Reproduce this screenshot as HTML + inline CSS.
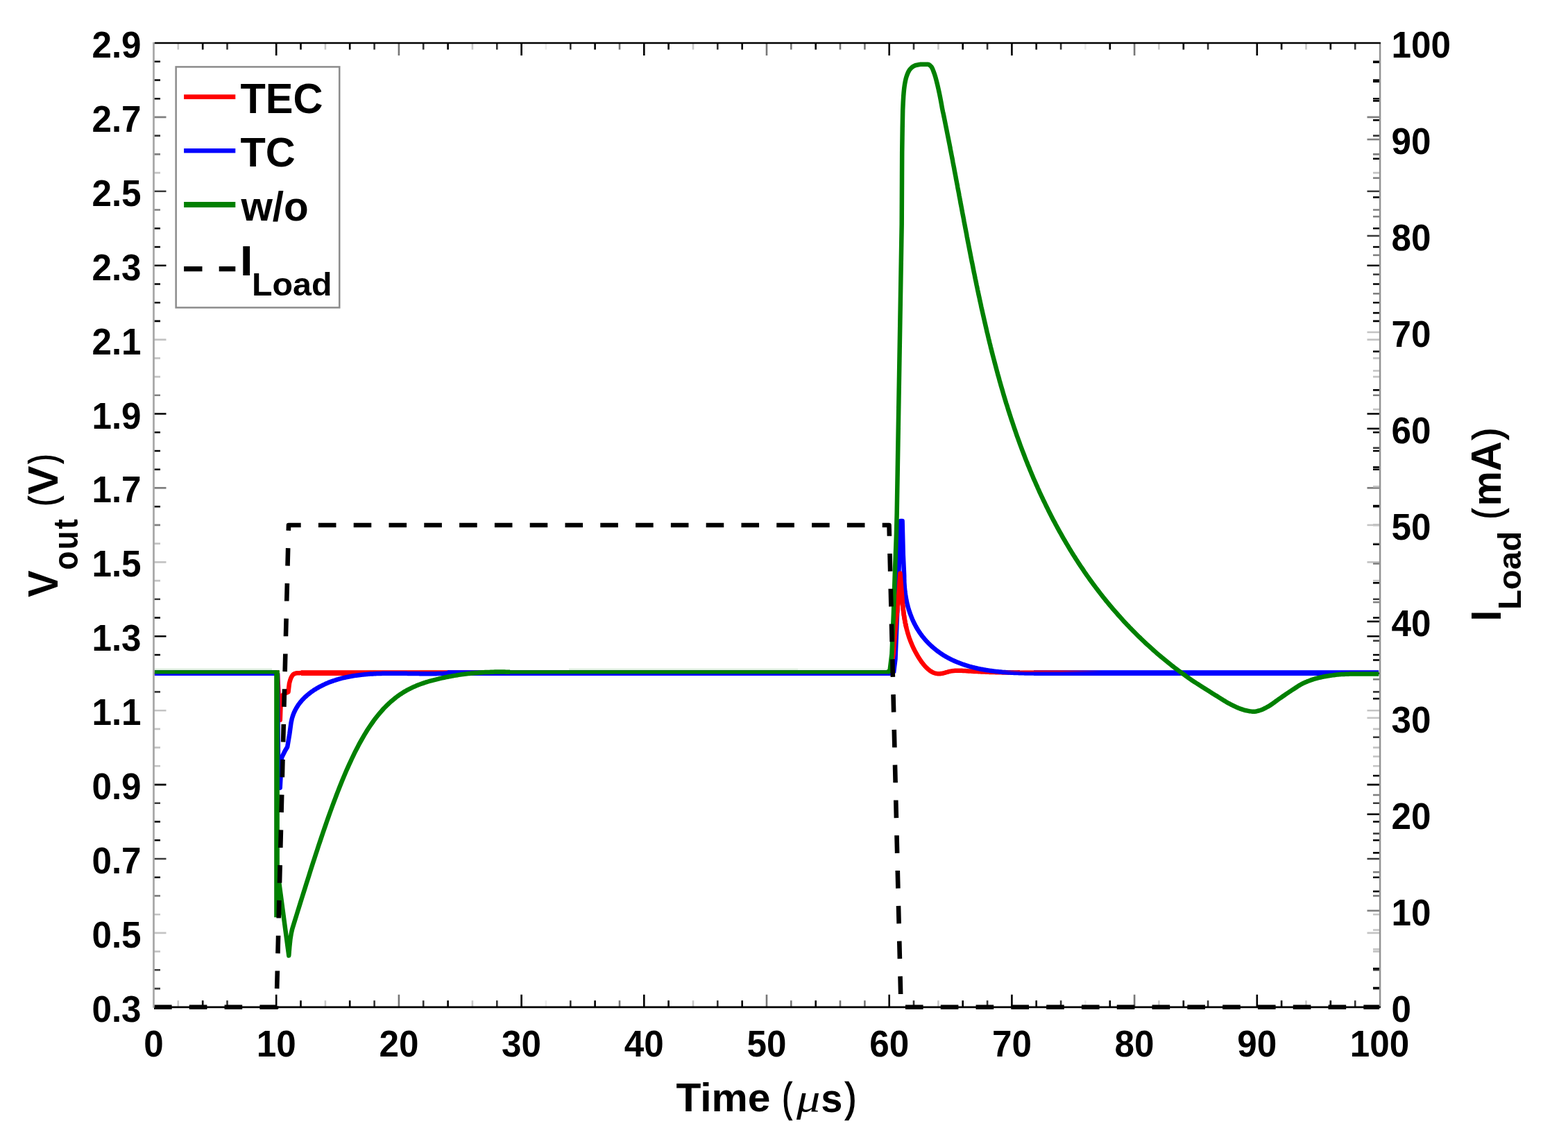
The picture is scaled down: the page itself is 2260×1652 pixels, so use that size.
<!DOCTYPE html>
<html lang="en"><head><meta charset="utf-8"><title>Load transient response</title>
<style>html,body{margin:0;padding:0;background:#fff;overflow:hidden}svg{display:block}</style></head><body>
<svg width="2260" height="1652" viewBox="0 0 2260 1652" font-family="'Liberation Sans',sans-serif" font-weight="bold" fill="#000">
<rect width="2260" height="1652" fill="#fff"/>
<g>
<g fill="none" stroke-width="2.6"><path d="M256.8 62.0v9.5M256.8 1451.8v-9.5" stroke="#c8c8c8"/><path d="M292.2 62.0v9.5M292.2 1451.8v-9.5" stroke="#000"/><path d="M327.5 62.0v9.5M327.5 1451.8v-9.5" stroke="#333"/><path d="M398.2 62.0v18M398.2 1451.8v-18" stroke="#000"/><path d="M433.5 62.0v9.5M433.5 1451.8v-9.5" stroke="#000"/><path d="M468.9 62.0v9.5M468.9 1451.8v-9.5" stroke="#c8c8c8"/><path d="M504.2 62.0v9.5M504.2 1451.8v-9.5" stroke="#000"/><path d="M539.6 62.0v9.5M539.6 1451.8v-9.5" stroke="#333"/><path d="M574.9 62.0v18M574.9 1451.8v-18" stroke="#777"/><path d="M610.2 62.0v9.5M610.2 1451.8v-9.5" stroke="#333"/><path d="M645.6 62.0v9.5M645.6 1451.8v-9.5" stroke="#000"/><path d="M680.9 62.0v9.5M680.9 1451.8v-9.5" stroke="#c8c8c8"/><path d="M716.3 62.0v9.5M716.3 1451.8v-9.5" stroke="#333"/><path d="M751.6 62.0v18M751.6 1451.8v-18" stroke="#000"/><path d="M786.9 62.0v9.5M786.9 1451.8v-9.5" stroke="#ececec"/><path d="M822.3 62.0v9.5M822.3 1451.8v-9.5" stroke="#333"/><path d="M857.6 62.0v9.5M857.6 1451.8v-9.5" stroke="#000"/><path d="M893.0 62.0v9.5M893.0 1451.8v-9.5" stroke="#777"/><path d="M928.3 62.0v18M928.3 1451.8v-18" stroke="#000"/><path d="M963.6 62.0v9.5M963.6 1451.8v-9.5" stroke="#000"/><path d="M999.0 62.0v9.5M999.0 1451.8v-9.5" stroke="#c8c8c8"/><path d="M1034.3 62.0v9.5M1034.3 1451.8v-9.5" stroke="#333"/><path d="M1069.7 62.0v9.5M1069.7 1451.8v-9.5" stroke="#000"/><path d="M1105.0 62.0v18M1105.0 1451.8v-18" stroke="#777"/><path d="M1140.3 62.0v9.5M1140.3 1451.8v-9.5" stroke="#777"/><path d="M1175.7 62.0v9.5M1175.7 1451.8v-9.5" stroke="#000"/><path d="M1211.0 62.0v9.5M1211.0 1451.8v-9.5" stroke="#777"/><path d="M1246.4 62.0v9.5M1246.4 1451.8v-9.5" stroke="#777"/><path d="M1281.7 62.0v18M1281.7 1451.8v-18" stroke="#000"/><path d="M1317.0 62.0v9.5M1317.0 1451.8v-9.5" stroke="#333"/><path d="M1352.4 62.0v9.5M1352.4 1451.8v-9.5" stroke="#c8c8c8"/><path d="M1387.7 62.0v9.5M1387.7 1451.8v-9.5" stroke="#000"/><path d="M1423.1 62.0v9.5M1423.1 1451.8v-9.5" stroke="#333"/><path d="M1458.4 62.0v18M1458.4 1451.8v-18" stroke="#000"/><path d="M1493.7 62.0v9.5M1493.7 1451.8v-9.5" stroke="#000"/><path d="M1529.1 62.0v9.5M1529.1 1451.8v-9.5" stroke="#333"/><path d="M1564.4 62.0v9.5M1564.4 1451.8v-9.5" stroke="#ececec"/><path d="M1599.8 62.0v9.5M1599.8 1451.8v-9.5" stroke="#000"/><path d="M1635.1 62.0v18M1635.1 1451.8v-18" stroke="#777"/><path d="M1670.4 62.0v9.5M1670.4 1451.8v-9.5" stroke="#c8c8c8"/><path d="M1705.8 62.0v9.5M1705.8 1451.8v-9.5" stroke="#000"/><path d="M1741.1 62.0v9.5M1741.1 1451.8v-9.5" stroke="#333"/><path d="M1811.8 62.0v18M1811.8 1451.8v-18" stroke="#000"/><path d="M1847.1 62.0v9.5M1847.1 1451.8v-9.5" stroke="#000"/><path d="M1882.5 62.0v9.5M1882.5 1451.8v-9.5" stroke="#c8c8c8"/><path d="M1917.8 62.0v9.5M1917.8 1451.8v-9.5" stroke="#000"/><path d="M1953.2 62.0v9.5M1953.2 1451.8v-9.5" stroke="#333"/></g>
<g fill="none" stroke-width="2.6"><path d="M221.5 1425.1h9.5M1988.5 1425.1h-9.5" stroke="#3a3a3a"/><path d="M221.5 1398.3h9.5M1988.5 1398.3h-9.5" stroke="#3a3a3a"/><path d="M221.5 1371.6h9.5M1988.5 1371.6h-9.5" stroke="#c4c4c4"/><path d="M221.5 1344.9h18M1988.5 1344.9h-18" stroke="#c4c4c4"/><path d="M221.5 1318.2h9.5M1988.5 1318.2h-9.5" stroke="#c4c4c4"/><path d="M221.5 1291.4h9.5M1988.5 1291.4h-9.5" stroke="#808080"/><path d="M221.5 1264.7h9.5M1988.5 1264.7h-9.5" stroke="#000"/><path d="M221.5 1238.0h18M1988.5 1238.0h-18" stroke="#3a3a3a"/><path d="M221.5 1211.3h9.5M1988.5 1211.3h-9.5" stroke="#000"/><path d="M221.5 1184.5h9.5M1988.5 1184.5h-9.5" stroke="#000"/><path d="M221.5 1157.8h9.5M1988.5 1157.8h-9.5" stroke="#3a3a3a"/><path d="M221.5 1131.1h18M1988.5 1131.1h-18" stroke="#000"/><path d="M221.5 1104.3h9.5M1988.5 1104.3h-9.5" stroke="#c4c4c4"/><path d="M221.5 1077.6h9.5M1988.5 1077.6h-9.5" stroke="#c4c4c4"/><path d="M221.5 1050.9h9.5M1988.5 1050.9h-9.5" stroke="#c4c4c4"/><path d="M221.5 1024.2h18M1988.5 1024.2h-18" stroke="#c4c4c4"/><path d="M221.5 997.4h9.5M1988.5 997.4h-9.5" stroke="#3a3a3a"/><path d="M221.5 970.7h9.5M1988.5 970.7h-9.5" stroke="#000"/><path d="M221.5 944.0h9.5M1988.5 944.0h-9.5" stroke="#000"/><path d="M221.5 917.3h18M1988.5 917.3h-18" stroke="#000"/><path d="M221.5 890.5h9.5M1988.5 890.5h-9.5" stroke="#000"/><path d="M221.5 863.8h9.5M1988.5 863.8h-9.5" stroke="#3a3a3a"/><path d="M221.5 837.1h9.5M1988.5 837.1h-9.5" stroke="#c4c4c4"/><path d="M221.5 810.4h18M1988.5 810.4h-18" stroke="#c4c4c4"/><path d="M221.5 783.6h9.5M1988.5 783.6h-9.5" stroke="#c4c4c4"/><path d="M221.5 756.9h9.5M1988.5 756.9h-9.5" stroke="#808080"/><path d="M221.5 730.2h9.5M1988.5 730.2h-9.5" stroke="#000"/><path d="M221.5 703.4h18M1988.5 703.4h-18" stroke="#808080"/><path d="M221.5 676.7h9.5M1988.5 676.7h-9.5" stroke="#000"/><path d="M221.5 650.0h9.5M1988.5 650.0h-9.5" stroke="#000"/><path d="M221.5 623.3h9.5M1988.5 623.3h-9.5" stroke="#000"/><path d="M221.5 596.5h18M1988.5 596.5h-18" stroke="#000"/><path d="M221.5 569.8h9.5M1988.5 569.8h-9.5" stroke="#808080"/><path d="M221.5 543.1h9.5M1988.5 543.1h-9.5" stroke="#c4c4c4"/><path d="M221.5 516.4h9.5M1988.5 516.4h-9.5" stroke="#c4c4c4"/><path d="M221.5 489.6h18M1988.5 489.6h-18" stroke="#c4c4c4"/><path d="M221.5 462.9h9.5M1988.5 462.9h-9.5" stroke="#000"/><path d="M221.5 436.2h9.5M1988.5 436.2h-9.5" stroke="#000"/><path d="M221.5 409.5h9.5M1988.5 409.5h-9.5" stroke="#000"/><path d="M221.5 382.7h18M1988.5 382.7h-18" stroke="#000"/><path d="M221.5 356.0h9.5M1988.5 356.0h-9.5" stroke="#000"/><path d="M221.5 329.3h9.5M1988.5 329.3h-9.5" stroke="#000"/><path d="M221.5 302.5h9.5M1988.5 302.5h-9.5" stroke="#808080"/><path d="M221.5 275.8h18M1988.5 275.8h-18" stroke="#3a3a3a"/><path d="M221.5 249.1h9.5M1988.5 249.1h-9.5" stroke="#c4c4c4"/><path d="M221.5 222.4h9.5M1988.5 222.4h-9.5" stroke="#808080"/><path d="M221.5 195.6h9.5M1988.5 195.6h-9.5" stroke="#3a3a3a"/><path d="M221.5 168.9h18M1988.5 168.9h-18" stroke="#808080"/><path d="M221.5 142.2h9.5M1988.5 142.2h-9.5" stroke="#000"/><path d="M221.5 115.5h9.5M1988.5 115.5h-9.5" stroke="#000"/><path d="M221.5 88.7h9.5M1988.5 88.7h-9.5" stroke="#000"/><path d="M1988.5 1424.0h-9.5" stroke="#000"/><path d="M1988.5 1396.2h-9.5" stroke="#000"/><path d="M1988.5 1368.4h-9.5" stroke="#c4c4c4"/><path d="M1988.5 1340.6h-9.5" stroke="#c4c4c4"/><path d="M1988.5 1312.8h-18" stroke="#808080"/><path d="M1988.5 1285.0h-9.5" stroke="#000"/><path d="M1988.5 1257.2h-9.5" stroke="#808080"/><path d="M1988.5 1229.4h-9.5" stroke="#000"/><path d="M1988.5 1201.6h-9.5" stroke="#3a3a3a"/><path d="M1988.5 1173.8h-18" stroke="#000"/><path d="M1988.5 1146.0h-9.5" stroke="#808080"/><path d="M1988.5 1118.2h-9.5" stroke="#000"/><path d="M1988.5 1090.5h-9.5" stroke="#c4c4c4"/><path d="M1988.5 1062.7h-9.5" stroke="#3a3a3a"/><path d="M1988.5 1034.9h-18" stroke="#c4c4c4"/><path d="M1988.5 1007.1h-9.5" stroke="#000"/><path d="M1988.5 979.3h-9.5" stroke="#808080"/><path d="M1988.5 951.5h-9.5" stroke="#000"/><path d="M1988.5 923.7h-9.5" stroke="#3a3a3a"/><path d="M1988.5 895.9h-18" stroke="#000"/><path d="M1988.5 868.1h-9.5" stroke="#808080"/><path d="M1988.5 840.3h-9.5" stroke="#000"/><path d="M1988.5 812.5h-9.5" stroke="#808080"/><path d="M1988.5 784.7h-9.5" stroke="#000"/><path d="M1988.5 756.9h-18" stroke="#c4c4c4"/><path d="M1988.5 729.1h-9.5" stroke="#000"/><path d="M1988.5 701.3h-9.5" stroke="#c4c4c4"/><path d="M1988.5 673.5h-9.5" stroke="#000"/><path d="M1988.5 645.7h-9.5" stroke="#3a3a3a"/><path d="M1988.5 617.9h-18" stroke="#000"/><path d="M1988.5 590.1h-9.5" stroke="#c4c4c4"/><path d="M1988.5 562.3h-9.5" stroke="#000"/><path d="M1988.5 534.5h-9.5" stroke="#c4c4c4"/><path d="M1988.5 506.7h-9.5" stroke="#000"/><path d="M1988.5 478.9h-18" stroke="#c4c4c4"/><path d="M1988.5 451.1h-9.5" stroke="#000"/><path d="M1988.5 423.3h-9.5" stroke="#808080"/><path d="M1988.5 395.6h-9.5" stroke="#3a3a3a"/><path d="M1988.5 367.8h-9.5" stroke="#808080"/><path d="M1988.5 340.0h-18" stroke="#3a3a3a"/><path d="M1988.5 312.2h-9.5" stroke="#808080"/><path d="M1988.5 284.4h-9.5" stroke="#000"/><path d="M1988.5 256.6h-9.5" stroke="#808080"/><path d="M1988.5 228.8h-9.5" stroke="#000"/><path d="M1988.5 201.0h-18" stroke="#808080"/><path d="M1988.5 173.2h-9.5" stroke="#000"/><path d="M1988.5 145.4h-9.5" stroke="#000"/><path d="M1988.5 117.6h-9.5" stroke="#000"/><path d="M1988.5 89.8h-9.5" stroke="#000"/></g>
<clipPath id="c"><rect x="222.8" y="62.0" width="1764.4" height="1393.8"/></clipPath>
<g clip-path="url(#c)">
<rect x="222.0" y="966.2" width="180.0" height="7.8" fill="#ff0000"/>
<rect x="434.0" y="966.2" width="852.0" height="7.8" fill="#ff0000"/>
<path d="M400.0 970.1 L401.5 1000.0 L403.8 1038.0 L405.0 1004.0 L410.0 1000.0 L415.5 997.5 L417.0 985.0 L418.0 981.3 L419.0 978.2 L420.0 976.0 L421.0 974.3 L422.0 972.9 L423.0 972.0 L424.0 971.5 L425.0 971.0 L426.0 970.7 L427.0 970.4 L428.0 970.3 L429.0 970.3 L430.0 970.2 L431.0 970.2 L432.0 970.2 L433.0 970.1 L434.0 970.1 L435.0 970.1 L436.0 970.1" fill="none" stroke="#ff0000" stroke-width="6.5" stroke-linejoin="round" />
<path d="M1284.0 970.1 L1286.1 951.0 L1287.6 943.3 L1291.2 899.7 L1294.9 863.4 L1297.5 826.4 L1299.9 856.2 L1300.0 857.5 L1300.1 858.8 L1300.2 860.2 L1300.3 861.5 L1300.4 862.8 L1300.5 864.1 L1300.6 865.4 L1300.7 866.7 L1300.8 867.9 L1300.9 869.2 L1301.0 870.5 L1301.1 871.8 L1301.3 873.1 L1301.4 874.3 L1301.5 875.6 L1301.6 876.9 L1301.8 878.1 L1301.9 879.4 L1302.1 880.7 L1302.2 881.9 L1302.4 883.2 L1302.6 884.4 L1302.7 885.7 L1302.9 886.9 L1303.1 888.1 L1303.3 889.4 L1303.5 890.6 L1303.7 891.8 L1303.9 893.1 L1304.1 894.3 L1304.3 895.5 L1304.6 896.7 L1304.8 898.0 L1305.1 899.2 L1305.3 900.4 L1305.6 901.6 L1305.9 902.8 L1306.1 904.0 L1306.4 905.2 L1306.7 906.4 L1307.0 907.6 L1307.3 908.8 L1307.7 910.0 L1308.0 911.2 L1308.3 912.4 L1308.7 913.6 L1309.1 914.8 L1309.4 916.0 L1309.8 917.2 L1310.2 918.4 L1310.6 919.6 L1311.0 920.7 L1311.5 921.9 L1311.9 923.1 L1312.3 924.3 L1312.8 925.5 L1313.3 926.7 L1313.8 927.8 L1314.3 929.0 L1314.8 930.2 L1315.3 931.4 L1315.8 932.5 L1316.4 933.7 L1316.9 934.9 L1317.5 936.0 L1318.1 937.2 L1318.7 938.4 L1319.3 939.6 L1320.0 940.7 L1320.6 941.9 L1321.3 943.1 L1321.9 944.2 L1322.6 945.4 L1323.3 946.6 L1324.0 947.7 L1324.8 948.9 L1325.5 950.1 L1326.3 951.2 L1327.0 952.3 L1327.8 953.5 L1328.6 954.6 L1329.4 955.7 L1330.3 956.7 L1331.1 957.8 L1332.0 958.8 L1332.8 959.8 L1333.7 960.8 L1334.6 961.7 L1335.5 962.6 L1336.4 963.5 L1337.4 964.4 L1338.3 965.2 L1339.3 965.9 L1340.2 966.7 L1341.2 967.3 L1342.2 968.0 L1343.2 968.5 L1344.2 969.1 L1345.2 969.6 L1346.3 970.0 L1347.3 970.3 L1348.4 970.6 L1349.4 970.9 L1350.5 971.1 L1351.6 971.2 L1352.7 971.2 L1353.8 971.2 L1354.9 971.2 L1356.0 971.0 L1357.1 970.9 L1358.3 970.7 L1359.4 970.5 L1360.6 970.2 L1361.8 969.9 L1362.9 969.5 L1364.1 969.2 L1365.3 968.9 L1366.5 968.5 L1367.7 968.2 L1368.9 967.9 L1370.1 967.6 L1371.4 967.4 L1372.6 967.2 L1373.8 967.1 L1375.1 966.9 L1376.3 966.8 L1377.6 966.8 L1378.8 966.7 L1380.1 966.7 L1381.4 966.7 L1382.6 966.7 L1383.9 966.7 L1385.2 966.8 L1386.5 966.8 L1387.8 966.9 L1389.1 966.9 L1390.4 967.0 L1391.7 967.1 L1393.0 967.2 L1394.3 967.3 L1395.6 967.4 L1396.9 967.5 L1398.3 967.5 L1399.6 967.6 L1400.9 967.7 L1402.2 967.8 L1403.5 967.9 L1404.9 967.9 L1406.2 968.0 L1407.5 968.1 L1408.9 968.1 L1410.2 968.2 L1411.5 968.3 L1412.9 968.3 L1414.2 968.4 L1415.5 968.5 L1416.9 968.5 L1418.2 968.6 L1419.5 968.6 L1420.9 968.7 L1422.2 968.7 L1423.5 968.8 L1424.8 968.8 L1426.2 968.9 L1427.5 968.9 L1428.8 969.0 L1430.1 969.0 L1431.5 969.1 L1432.8 969.1 L1434.1 969.1 L1435.4 969.2 L1436.7 969.2 L1438.0 969.2 L1439.3 969.3 L1440.6 969.3 L1441.9 969.3 L1443.2 969.3 L1444.4 969.4 L1445.7 969.4 L1447.0 969.4 L1448.3 969.4 L1449.5 969.4 L1450.8 969.4 L1452.0 969.4 L1453.3 969.4 L1454.5 969.4 L1455.8 969.4 L1457.0 969.4 L1458.2 969.4 L1459.4 969.4 L1460.6 969.4 L1461.8 969.4 L1463.0 969.4 L1464.2 969.4 L1465.4 969.4 L1466.5 969.4 L1467.7 969.3 L1468.9 969.3 L1470.0 969.3" fill="none" stroke="#ff0000" stroke-width="6.5" stroke-linejoin="round" stroke-linejoin="miter" stroke-miterlimit="10"/>
<rect x="222.0" y="966.2" width="177.0" height="7.8" fill="#0000ff"/>
<rect x="645.0" y="966.2" width="645.0" height="7.8" fill="#0000ff"/>
<rect x="1490.0" y="966.2" width="500.0" height="7.8" fill="#0000ff"/>
<path d="M400.0 971.1 L401.0 1100.0 L403.7 1135.7 L406.0 1092.0 L411.0 1082.0 L414.2 1076.8 L417.3 1058.3 L419.4 1042.9 L419.4 1042.9 L419.6 1041.5 L419.9 1040.1 L420.2 1038.7 L420.5 1037.3 L420.8 1035.9 L421.2 1034.6 L421.6 1033.3 L422.0 1032.0 L422.5 1030.7 L422.9 1029.4 L423.4 1028.2 L424.0 1026.9 L424.5 1025.7 L425.1 1024.5 L425.7 1023.3 L426.3 1022.2 L426.9 1021.0 L427.6 1019.9 L428.3 1018.8 L429.0 1017.7 L429.7 1016.6 L430.4 1015.5 L431.2 1014.5 L432.0 1013.5 L432.7 1012.5 L433.6 1011.5 L434.4 1010.5 L435.2 1009.5 L436.1 1008.6 L437.0 1007.6 L437.9 1006.7 L438.8 1005.8 L439.7 1004.9 L440.7 1004.0 L441.6 1003.2 L442.6 1002.3 L443.6 1001.5 L444.6 1000.7 L445.6 999.9 L446.6 999.1 L447.6 998.3 L448.6 997.5 L449.7 996.8 L450.7 996.1 L451.8 995.3 L452.9 994.6 L454.0 993.9 L455.1 993.3 L456.2 992.6 L457.3 991.9 L458.4 991.3 L459.5 990.7 L460.6 990.0 L461.7 989.4 L462.9 988.9 L464.0 988.3 L465.2 987.7 L466.3 987.2 L467.5 986.6 L468.6 986.1 L469.8 985.6 L471.0 985.1 L472.1 984.6 L473.3 984.1 L474.5 983.6 L475.7 983.1 L476.9 982.7 L478.1 982.2 L479.3 981.8 L480.5 981.4 L481.7 981.0 L483.0 980.6 L484.2 980.2 L485.4 979.8 L486.6 979.4 L487.9 979.1 L489.1 978.7 L490.4 978.4 L491.6 978.0 L492.9 977.7 L494.1 977.4 L495.4 977.1 L496.7 976.8 L497.9 976.5 L499.2 976.2 L500.5 976.0 L501.8 975.7 L503.0 975.5 L504.3 975.2 L505.6 975.0 L506.9 974.7 L508.2 974.5 L509.5 974.3 L510.8 974.1 L512.1 973.9 L513.4 973.7 L514.7 973.5 L516.1 973.4 L517.4 973.2 L518.7 973.0 L520.0 972.9 L521.3 972.7 L522.7 972.6 L524.0 972.4 L525.3 972.3 L526.7 972.2 L528.0 972.1 L529.3 971.9 L530.7 971.8 L532.0 971.7 L533.3 971.6 L534.7 971.6 L536.0 971.5 L537.4 971.4 L538.7 971.3 L540.1 971.2 L541.4 971.2 L542.8 971.1 L544.1 971.1 L545.5 971.0 L546.9 971.0 L548.2 970.9 L549.6 970.9 L550.9 970.8 L552.3 970.8 L553.7 970.8 L555.0 970.7 L556.4 970.7 L557.7 970.7 L559.1 970.7 L560.5 970.7 L561.8 970.7 L563.2 970.7 L564.6 970.7 L565.9 970.7 L567.3 970.7 L568.6 970.7 L570.0 970.7 L571.4 970.7 L572.7 970.7 L574.1 970.7 L575.5 970.7 L576.8 970.7 L578.2 970.7 L579.5 970.7 L580.9 970.8 L582.3 970.8 L583.6 970.8 L585.0 970.8 L586.3 970.8 L587.7 970.9 L589.0 970.9 L590.4 970.9 L591.7 970.9 L593.1 971.0 L594.4 971.0 L595.8 971.0 L597.1 971.0 L598.5 971.1 L599.8 971.1 L601.1 971.1 L602.5 971.1 L603.8 971.1 L605.2 971.2 L606.5 971.2 L607.8 971.2 L609.1 971.2 L610.5 971.2 L611.8 971.2 L613.1 971.2 L614.4 971.2 L615.7 971.2 L617.1 971.3 L618.4 971.3 L619.7 971.3 L621.0 971.2 L622.3 971.2 L623.6 971.2 L624.9 971.2 L626.2 971.2 L627.4 971.2 L628.7 971.2 L630.0 971.1 L631.3 971.1 L632.6 971.1 L633.8 971.1 L635.1 971.0 L636.4 971.0 L637.6 970.9 L638.9 970.9 L640.1 970.8 L641.4 970.8 L642.6 970.7 L643.9 970.6 L645.1 970.5 L646.3 970.5 L647.6 970.4 L648.8 970.3 L650.0 970.2" fill="none" stroke="#0000ff" stroke-width="6.5" stroke-linejoin="round" />
<path d="M1288.0 970.1 L1290.5 950.0 L1294.5 850.0 L1298.0 751.0 L1300.6 751.0 L1301.8 800.0 L1303.2 830.0 L1303.2 831.5 L1303.2 833.0 L1303.2 834.4 L1303.3 835.9 L1303.3 837.4 L1303.3 838.9 L1303.4 840.3 L1303.5 841.8 L1303.6 843.2 L1303.7 844.7 L1303.8 846.1 L1303.9 847.6 L1304.0 849.0 L1304.2 850.5 L1304.4 851.9 L1304.5 853.3 L1304.7 854.8 L1304.9 856.2 L1305.1 857.6 L1305.3 859.0 L1305.6 860.4 L1305.8 861.8 L1306.1 863.2 L1306.3 864.6 L1306.6 866.0 L1306.9 867.4 L1307.2 868.8 L1307.5 870.1 L1307.9 871.5 L1308.2 872.9 L1308.6 874.2 L1308.9 875.6 L1309.3 876.9 L1309.7 878.2 L1310.1 879.6 L1310.6 880.9 L1311.0 882.2 L1311.4 883.5 L1311.9 884.8 L1312.4 886.1 L1312.9 887.4 L1313.4 888.7 L1313.9 890.0 L1314.4 891.2 L1314.9 892.5 L1315.5 893.8 L1316.0 895.0 L1316.6 896.2 L1317.2 897.5 L1317.8 898.7 L1318.4 899.9 L1319.1 901.1 L1319.7 902.3 L1320.4 903.5 L1321.0 904.7 L1321.7 905.8 L1322.4 907.0 L1323.1 908.2 L1323.9 909.3 L1324.6 910.4 L1325.4 911.6 L1326.1 912.7 L1326.9 913.8 L1327.7 914.9 L1328.5 916.0 L1329.3 917.1 L1330.2 918.1 L1331.0 919.2 L1331.9 920.2 L1332.8 921.3 L1333.7 922.3 L1334.6 923.3 L1335.5 924.3 L1336.4 925.3 L1337.4 926.3 L1338.3 927.3 L1339.3 928.3 L1340.3 929.2 L1341.3 930.2 L1342.3 931.1 L1343.3 932.0 L1344.3 932.9 L1345.4 933.8 L1346.4 934.7 L1347.5 935.6 L1348.6 936.5 L1349.6 937.3 L1350.7 938.2 L1351.8 939.0 L1353.0 939.8 L1354.1 940.6 L1355.2 941.4 L1356.4 942.2 L1357.5 942.9 L1358.7 943.7 L1359.8 944.4 L1361.0 945.2 L1362.2 945.9 L1363.4 946.6 L1364.6 947.3 L1365.8 947.9 L1367.0 948.6 L1368.3 949.2 L1369.5 949.9 L1370.7 950.5 L1372.0 951.1 L1373.2 951.7 L1374.5 952.3 L1375.7 952.9 L1377.0 953.4 L1378.3 954.0 L1379.6 954.5 L1380.9 955.0 L1382.2 955.5 L1383.5 956.0 L1384.8 956.5 L1386.1 957.0 L1387.4 957.5 L1388.7 957.9 L1390.1 958.4 L1391.4 958.8 L1392.7 959.2 L1394.1 959.7 L1395.4 960.1 L1396.8 960.5 L1398.1 960.9 L1399.5 961.2 L1400.8 961.6 L1402.2 961.9 L1403.6 962.3 L1405.0 962.6 L1406.3 963.0 L1407.7 963.3 L1409.1 963.6 L1410.5 963.9 L1411.9 964.2 L1413.3 964.5 L1414.7 964.7 L1416.1 965.0 L1417.5 965.3 L1418.9 965.5 L1420.3 965.8 L1421.7 966.0 L1423.1 966.2 L1424.5 966.4 L1426.0 966.6 L1427.4 966.9 L1428.8 967.0 L1430.2 967.2 L1431.6 967.4 L1433.1 967.6 L1434.5 967.8 L1435.9 967.9 L1437.3 968.1 L1438.8 968.2 L1440.2 968.4 L1441.6 968.5 L1443.0 968.6 L1444.5 968.8 L1445.9 968.9 L1447.3 969.0 L1448.7 969.1 L1450.2 969.2 L1451.6 969.3 L1453.0 969.4 L1454.4 969.5 L1455.8 969.6 L1457.3 969.7 L1458.7 969.7 L1460.1 969.8 L1461.5 969.9 L1462.9 969.9 L1464.3 970.0 L1465.8 970.1 L1467.2 970.1 L1468.6 970.2 L1470.0 970.2 L1471.4 970.2 L1472.8 970.3 L1474.2 970.3 L1475.6 970.3 L1477.0 970.4 L1478.3 970.4 L1479.7 970.4 L1481.1 970.4 L1482.5 970.4 L1483.9 970.5 L1485.2 970.5 L1486.6 970.5 L1487.9 970.5 L1489.3 970.5 L1490.7 970.5 L1492.0 970.5 L1493.4 970.5 L1494.7 970.5 L1496.0 970.5 L1497.4 970.5 L1498.7 970.5 L1500.0 970.5" fill="none" stroke="#0000ff" stroke-width="6.5" stroke-linejoin="round" />
<linearGradient id="rg" x1="0" x2="1" y1="0" y2="0"><stop offset="0" stop-color="#f00" stop-opacity="0"/><stop offset=".25" stop-color="#f00" stop-opacity=".8"/><stop offset=".6" stop-color="#f00" stop-opacity=".7"/><stop offset="1" stop-color="#f00" stop-opacity="0"/></linearGradient>
<rect x="1440" y="966.2" width="150" height="2.6" fill="url(#rg)"/>
<clipPath id="rs"><rect x="1280" y="800" width="40" height="150"/></clipPath>
<g clip-path="url(#rs)"><path d="M1284.0 970.1 L1286.1 951.0 L1287.6 943.3 L1291.2 899.7 L1294.9 863.4 L1297.5 826.4 L1299.9 856.2 L1300.0 857.5 L1300.1 858.8 L1300.2 860.2 L1300.3 861.5 L1300.4 862.8 L1300.5 864.1 L1300.6 865.4 L1300.7 866.7 L1300.8 867.9 L1300.9 869.2 L1301.0 870.5 L1301.1 871.8 L1301.3 873.1 L1301.4 874.3 L1301.5 875.6 L1301.6 876.9 L1301.8 878.1 L1301.9 879.4 L1302.1 880.7 L1302.2 881.9 L1302.4 883.2 L1302.6 884.4 L1302.7 885.7 L1302.9 886.9 L1303.1 888.1 L1303.3 889.4 L1303.5 890.6 L1303.7 891.8 L1303.9 893.1 L1304.1 894.3 L1304.3 895.5 L1304.6 896.7 L1304.8 898.0 L1305.1 899.2 L1305.3 900.4 L1305.6 901.6 L1305.9 902.8 L1306.1 904.0 L1306.4 905.2" fill="none" stroke="#ff0000" stroke-width="6.5" stroke-linejoin="round" stroke-linejoin="miter" stroke-miterlimit="10"/></g>
<rect x="222.0" y="966.2" width="177.0" height="5.2" fill="#008000"/>
<rect x="222.0" y="963.5" width="170.0" height="2.7" fill="#008000" opacity="0.13"/>
<rect x="730.0" y="966.2" width="552.0" height="5.2" fill="#008000"/>
<rect x="820.0" y="963.5" width="330.0" height="2.7" fill="#008000" opacity="0.12"/>
<rect x="1150.0" y="963.5" width="130.0" height="2.7" fill="#008000" opacity="0.06"/>
<rect x="395.2" y="966.2" width="7.7" height="356.1" fill="#008000"/>
<path d="M399.3 1250.0 L416.3 1377.5 L417.3 1365.0 L418.5 1353.5 L419.8 1345.5 L421.2 1339.2 L423.2 1332.7 L425.2 1326.3 L427.2 1319.9 L429.2 1313.4 L431.2 1307.0 L433.2 1300.5 L435.2 1294.1 L437.2 1287.7 L439.2 1281.4 L441.2 1275.0 L443.2 1268.7 L445.2 1262.4 L447.2 1256.1 L449.2 1249.8 L451.2 1243.6 L453.2 1237.4 L455.2 1231.3 L457.2 1225.2 L459.2 1219.1 L461.2 1213.1 L463.2 1207.1 L465.2 1201.2 L467.2 1195.4 L469.2 1189.6 L471.2 1183.8 L473.2 1178.1 L475.2 1172.5 L477.2 1167.0 L479.2 1161.5 L481.2 1156.1 L483.2 1150.8 L485.2 1145.5 L487.2 1140.4 L489.2 1135.3 L491.2 1130.3 L493.2 1125.3 L495.2 1120.5 L497.2 1115.8 L499.2 1111.1 L501.2 1106.6 L503.2 1102.1 L505.2 1097.8 L507.2 1093.5 L509.2 1089.3 L511.2 1085.2 L513.2 1081.3 L515.2 1077.4 L517.2 1073.6 L519.2 1069.9 L521.2 1066.3 L523.2 1062.8 L525.2 1059.4 L527.2 1056.1 L529.2 1052.8 L531.2 1049.7 L533.2 1046.7 L535.2 1043.8 L537.2 1041.0 L539.2 1038.2 L541.2 1035.5 L543.2 1033.0 L545.2 1030.5 L547.2 1028.1 L549.2 1025.8 L551.2 1023.5 L553.2 1021.3 L555.2 1019.3 L557.2 1017.2 L559.2 1015.3 L561.2 1013.4 L563.2 1011.6 L565.2 1009.9 L567.2 1008.2 L569.2 1006.6 L571.2 1005.0 L573.2 1003.5 L575.2 1002.1 L577.2 1000.7 L579.2 999.4 L581.2 998.1 L583.2 996.9 L585.2 995.8 L587.2 994.6 L589.2 993.6 L591.2 992.6 L593.2 991.6 L595.2 990.6 L597.2 989.7 L599.2 988.9 L601.2 988.0 L603.2 987.2 L605.2 986.5 L607.2 985.8 L609.2 985.1 L611.2 984.4 L613.2 983.7 L615.2 983.1 L617.2 982.5 L619.2 981.9 L621.2 981.4 L623.2 980.8 L625.2 980.3 L627.2 979.8 L629.2 979.3 L631.2 978.8 L633.2 978.3 L635.2 977.9 L637.2 977.4 L639.2 977.0 L641.2 976.5 L643.2 976.1 L645.2 975.7 L647.2 975.3 L649.2 975.0 L651.2 974.6 L653.2 974.2 L655.2 973.9 L657.2 973.6 L659.2 973.2 L661.2 972.9 L663.2 972.6 L665.2 972.3 L667.2 972.1 L669.2 971.8 L671.2 971.6 L673.2 971.3 L675.2 971.1 L677.2 970.9 L679.2 970.6 L681.2 970.4 L683.2 970.3 L685.2 970.1 L687.2 969.9 L689.2 969.8 L691.2 969.6 L693.2 969.5 L695.2 969.3 L697.2 969.2 L699.2 969.1 L701.2 969.0 L703.2 968.9 L705.2 968.9 L707.2 968.8 L709.2 968.7 L711.2 968.7 L713.2 968.6 L715.2 968.6 L717.2 968.6 L719.2 968.6 L721.2 968.6 L723.2 968.6 L725.2 968.6 L727.2 968.6 L729.2 968.7 L731.2 968.7 L733.2 968.7 L735.0 968.8" fill="none" stroke="#008000" stroke-width="6.5" stroke-linejoin="round" stroke-linejoin="miter" stroke-miterlimit="12"/>
<path d="M1279.5 968.8 L1282.5 966.8 L1285.4 943.0 L1287.9 885.0 L1289.8 827.0 L1292.0 769.0 L1292.7 740.0 L1299.7 322.8 L1300.2 219.3 L1300.7 184.0 L1301.2 158.4 L1301.7 147.1 L1302.2 138.7 L1302.7 132.3 L1303.2 127.5 L1303.7 123.7 L1304.2 120.5 L1304.7 117.8 L1305.2 115.4 L1305.7 113.3 L1306.2 111.5 L1306.7 110.0 L1307.2 108.6 L1307.7 107.2 L1308.2 106.0 L1308.7 104.8 L1309.2 103.8 L1309.7 102.8 L1310.2 101.9 L1310.7 101.1 L1311.2 100.4 L1311.7 99.8 L1312.2 99.3 L1312.7 98.8 L1313.2 98.3 L1313.7 97.8 L1314.2 97.3 L1314.7 96.9 L1315.2 96.5 L1315.7 96.1 L1316.2 95.8 L1316.7 95.5 L1317.2 95.2 L1317.7 94.9 L1318.2 94.7 L1318.7 94.5 L1319.2 94.3 L1319.7 94.2 L1320.2 94.0 L1320.7 93.9 L1321.2 93.8 L1321.7 93.7 L1322.2 93.6 L1322.7 93.5 L1323.2 93.4 L1323.7 93.3 L1324.2 93.2 L1324.7 93.1 L1325.2 93.0 L1325.7 92.9 L1326.2 92.9 L1326.7 92.8 L1327.2 92.8 L1327.7 92.7 L1328.2 92.7 L1328.7 92.7 L1329.2 92.7 L1329.7 92.7 L1330.2 92.7 L1330.7 92.7 L1331.2 92.7 L1331.7 92.7 L1332.2 92.7 L1332.7 92.7 L1333.2 92.7 L1333.7 92.7 L1334.2 92.7 L1334.7 92.7 L1335.2 92.7 L1335.7 92.7 L1336.2 92.7 L1336.7 92.7 L1337.2 92.7 L1337.7 92.7 L1338.2 92.9 L1338.7 93.1 L1339.2 93.4 L1339.7 93.7 L1340.2 94.1 L1340.7 94.5 L1341.2 95.0 L1341.7 95.5 L1342.2 96.0 L1342.7 96.7 L1343.2 97.5 L1343.7 98.5 L1344.2 99.6 L1344.7 100.8 L1345.2 102.1 L1345.7 103.5 L1346.2 104.8 L1346.7 106.2 L1347.2 107.6 L1347.7 109.2 L1348.2 110.9 L1348.7 112.6 L1349.2 114.5 L1349.7 116.4 L1350.2 118.4 L1350.7 120.4 L1351.2 122.4 L1351.7 124.5 L1352.2 126.7 L1352.7 128.9 L1353.2 131.2 L1353.7 133.5 L1354.2 135.9 L1354.7 138.4 L1355.2 140.9 L1355.7 143.5 L1356.2 146.2 L1356.7 148.9 L1357.2 151.6 L1357.7 154.5 L1357.9 155.6 L1358.5 158.6 L1359.1 161.5 L1359.8 164.5 L1360.4 167.5 L1361.0 170.4 L1361.6 173.4 L1362.2 176.4 L1362.8 179.4 L1363.4 182.4 L1364.0 185.4 L1364.6 188.4 L1365.2 191.3 L1365.8 194.3 L1366.4 197.3 L1367.0 200.3 L1367.6 203.4 L1368.2 206.4 L1368.8 209.4 L1369.4 212.4 L1369.9 215.4 L1370.5 218.4 L1371.1 221.4 L1371.7 224.5 L1372.3 227.5 L1372.9 230.5 L1373.4 233.5 L1374.0 236.6 L1374.6 239.6 L1375.2 242.6 L1375.7 245.7 L1376.3 248.7 L1376.9 251.8 L1377.5 254.8 L1378.0 257.9 L1378.6 260.9 L1379.2 264.0 L1379.8 267.0 L1380.3 270.1 L1380.9 273.1 L1381.5 276.2 L1382.1 279.2 L1382.6 282.3 L1383.2 285.3 L1383.8 288.4 L1384.3 291.5 L1384.9 294.5 L1385.5 297.6 L1386.1 300.7 L1386.6 303.7 L1387.2 306.8 L1387.8 309.9 L1388.4 312.9 L1389.0 316.0 L1389.5 319.1 L1390.1 322.2 L1390.7 325.2 L1391.3 328.3 L1391.9 331.4 L1392.5 334.5 L1393.1 337.5 L1393.6 340.6 L1394.2 343.7 L1394.8 346.8 L1395.4 349.8 L1396.0 352.9 L1396.6 356.0 L1397.2 359.1 L1397.8 362.2 L1398.4 365.2 L1399.0 368.3 L1399.6 371.4 L1400.2 374.5 L1400.8 377.6 L1401.5 380.6 L1402.1 383.7 L1402.7 386.8 L1403.3 389.9 L1403.9 393.0 L1404.6 396.0 L1405.2 399.1 L1405.8 402.2 L1406.5 405.3 L1407.1 408.4 L1407.7 411.4 L1408.4 414.5 L1409.0 417.6 L1409.7 420.7 L1410.3 423.8 L1411.0 426.8 L1411.7 429.9 L1412.3 433.0 L1413.0 436.0 L1413.7 439.1 L1414.3 442.2 L1415.0 445.3 L1415.7 448.3 L1416.4 451.4 L1417.1 454.5 L1417.8 457.5 L1418.5 460.6 L1419.2 463.7 L1419.9 466.7 L1420.6 469.8 L1421.3 472.8 L1422.0 475.9 L1422.7 479.0 L1423.5 482.0 L1424.2 485.1 L1424.9 488.1 L1425.7 491.2 L1426.4 494.2 L1427.2 497.3 L1427.9 500.3 L1428.7 503.3 L1429.4 506.4 L1430.2 509.4 L1431.0 512.5 L1431.8 515.5 L1432.6 518.5 L1433.4 521.6 L1434.2 524.6 L1435.0 527.6 L1435.8 530.6 L1436.6 533.7 L1437.4 536.7 L1438.2 539.7 L1439.1 542.7 L1439.9 545.7 L1440.7 548.7 L1441.6 551.7 L1442.4 554.8 L1443.3 557.8 L1444.2 560.8 L1445.1 563.8 L1445.9 566.7 L1446.8 569.7 L1447.7 572.7 L1448.6 575.7 L1449.5 578.7 L1450.4 581.7 L1451.4 584.6 L1452.3 587.6 L1453.2 590.6 L1454.2 593.6 L1455.1 596.5 L1456.1 599.5 L1457.0 602.4 L1458.0 605.4 L1459.0 608.3 L1460.0 611.3 L1461.0 614.2 L1462.0 617.2 L1463.0 620.1 L1464.0 623.0 L1465.0 626.0 L1466.0 628.9 L1467.1 631.8 L1468.1 634.7 L1469.2 637.6 L1470.2 640.5 L1471.3 643.5 L1472.4 646.4 L1473.5 649.3 L1474.6 652.1 L1475.7 655.0 L1476.8 657.9 L1477.9 660.8 L1479.0 663.7 L1480.2 666.5 L1481.3 669.4 L1482.5 672.3 L1483.7 675.1 L1484.8 678.0 L1486.0 680.8 L1487.2 683.7 L1488.4 686.5 L1489.6 689.4 L1490.8 692.2 L1492.1 695.0 L1493.3 697.8 L1494.6 700.6 L1495.8 703.5 L1497.1 706.3 L1498.3 709.1 L1499.6 711.9 L1500.9 714.6 L1502.2 717.4 L1503.5 720.2 L1504.9 723.0 L1506.2 725.7 L1507.5 728.5 L1508.9 731.3 L1510.3 734.0 L1511.6 736.8 L1513.0 739.5 L1514.4 742.2 L1515.8 745.0 L1517.2 747.7 L1518.6 750.4 L1520.1 753.1 L1521.5 755.8 L1523.0 758.5 L1524.4 761.2 L1525.9 763.9 L1527.4 766.6 L1528.9 769.2 L1530.4 771.9 L1531.9 774.6 L1533.4 777.2 L1535.0 779.8 L1536.5 782.5 L1538.1 785.1 L1539.6 787.7 L1541.2 790.4 L1542.8 793.0 L1544.4 795.6 L1546.0 798.2 L1547.6 800.8 L1549.3 803.4 L1550.9 805.9 L1552.6 808.5 L1554.2 811.1 L1555.9 813.6 L1557.6 816.2 L1559.3 818.7 L1561.0 821.2 L1562.7 823.8 L1564.5 826.3 L1566.2 828.8 L1568.0 831.3 L1569.8 833.8 L1571.5 836.3 L1573.3 838.7 L1575.1 841.2 L1577.0 843.7 L1578.8 846.1 L1580.6 848.6 L1582.5 851.0 L1584.3 853.4 L1586.2 855.9 L1588.1 858.3 L1590.0 860.7 L1591.9 863.1 L1593.8 865.5 L1595.8 867.8 L1597.7 870.2 L1599.7 872.6 L1601.7 874.9 L1603.7 877.3 L1605.7 879.6 L1607.7 881.9 L1609.7 884.2 L1611.7 886.5 L1613.8 888.8 L1615.9 891.1 L1617.9 893.4 L1620.0 895.7 L1622.1 897.9 L1624.2 900.2 L1626.4 902.4 L1628.5 904.7 L1630.7 906.9 L1632.8 909.1 L1635.0 911.3 L1637.2 913.5 L1639.4 915.7 L1641.6 917.9 L1643.9 920.0 L1646.1 922.2 L1648.4 924.3 L1650.6 926.5 L1652.9 928.6 L1655.2 930.7 L1657.6 932.8 L1659.9 934.9 L1662.2 937.0 L1664.6 939.1 L1666.9 941.2 L1669.3 943.2 L1671.7 945.2 L1674.1 947.3 L1676.6 949.3 L1679.0 951.3 L1681.5 953.3 L1683.9 955.3 L1686.4 957.3 L1688.9 959.3 L1691.4 961.2 L1693.9 963.2 L1696.5 965.1 L1699.0 967.0 L1701.6 968.9 L1704.2 970.8 L1706.8 972.7 L1709.4 974.6 L1712.0 976.5 L1714.7 978.3 L1717.3 980.2 L1720.0 982.0 L1721.5 983.0 L1723.0 983.9 L1724.5 984.9 L1726.0 985.9 L1727.5 986.8 L1729.0 987.8 L1730.5 988.7 L1732.0 989.7 L1733.5 990.6 L1735.0 991.6 L1736.5 992.5 L1738.0 993.5 L1739.5 994.4 L1741.0 995.4 L1742.5 996.3 L1744.0 997.3 L1745.5 998.2 L1747.0 999.2 L1748.5 1000.1 L1750.0 1001.1 L1751.5 1002.0 L1753.0 1002.9 L1754.5 1003.8 L1756.0 1004.8 L1757.5 1005.7 L1759.0 1006.6 L1760.5 1007.6 L1762.0 1008.5 L1763.5 1009.5 L1765.0 1010.4 L1766.5 1011.3 L1768.0 1012.2 L1769.5 1013.1 L1771.0 1013.9 L1772.5 1014.7 L1774.0 1015.5 L1775.5 1016.2 L1777.0 1017.0 L1778.5 1017.7 L1780.0 1018.4 L1781.5 1019.2 L1783.0 1019.8 L1784.5 1020.5 L1786.0 1021.1 L1787.5 1021.7 L1789.0 1022.2 L1790.5 1022.7 L1792.0 1023.2 L1793.5 1023.6 L1795.0 1024.0 L1796.5 1024.3 L1798.0 1024.6 L1799.5 1024.9 L1801.0 1025.2 L1802.5 1025.4 L1804.0 1025.6 L1805.5 1025.8 L1807.0 1025.8 L1808.5 1025.7 L1810.0 1025.5 L1811.5 1025.2 L1813.0 1024.8 L1814.5 1024.5 L1816.0 1024.0 L1817.5 1023.5 L1819.0 1022.9 L1820.5 1022.3 L1822.0 1021.5 L1823.5 1020.8 L1825.0 1020.0 L1826.5 1019.2 L1828.0 1018.4 L1829.5 1017.5 L1831.0 1016.5 L1832.5 1015.5 L1834.0 1014.5 L1835.5 1013.4 L1837.0 1012.3 L1838.5 1011.2 L1840.0 1010.1 L1841.5 1009.0 L1843.0 1007.9 L1844.5 1006.9 L1846.0 1005.9 L1847.5 1004.8 L1849.0 1003.8 L1850.5 1002.7 L1852.0 1001.7 L1853.5 1000.6 L1855.0 999.6 L1856.5 998.6 L1858.0 997.6 L1859.5 996.6 L1861.0 995.6 L1862.5 994.6 L1864.0 993.6 L1865.5 992.7 L1867.0 991.7 L1868.5 990.7 L1870.0 989.7 L1871.5 988.8 L1873.0 987.9 L1874.5 987.0 L1876.0 986.2 L1877.5 985.4 L1879.0 984.6 L1880.5 984.0 L1882.0 983.3 L1883.5 982.7 L1885.0 982.0 L1886.5 981.5 L1888.0 980.9 L1889.5 980.3 L1891.0 979.8 L1892.5 979.3 L1894.0 978.9 L1895.5 978.4 L1897.0 978.0 L1898.5 977.6 L1900.0 977.2 L1901.5 976.9 L1903.0 976.5 L1904.5 976.2 L1906.0 975.9 L1907.5 975.5 L1909.0 975.3 L1910.5 975.0 L1912.0 974.7 L1913.5 974.5 L1915.0 974.3 L1916.5 974.0 L1918.0 973.8 L1919.5 973.6 L1921.0 973.4 L1922.5 973.2 L1924.0 973.0 L1925.5 972.8 L1927.0 972.6 L1928.5 972.5 L1930.0 972.3 L1931.5 972.2 L1933.0 972.1 L1934.5 972.0 L1936.0 971.9 L1937.5 971.9 L1939.0 971.8 L1940.5 971.8 L1942.0 971.7 L1943.5 971.7 L1945.0 971.6 L1946.5 971.6 L1948.0 971.5 L1949.5 971.5 L1951.0 971.5 L1952.5 971.5 L1954.0 971.4 L1955.5 971.4 L1957.0 971.4 L1958.5 971.4 L1960.0 971.4 L1961.5 971.4 L1963.0 971.4 L1964.5 971.4 L1966.0 971.4 L1967.5 971.4 L1969.0 971.4 L1970.5 971.4 L1972.0 971.4 L1973.5 971.4 L1975.0 971.4 L1976.5 971.4 L1978.0 971.4 L1979.5 971.4 L1981.0 971.4 L1982.5 971.4 L1984.0 971.4 L1985.5 971.4 L1987.0 971.4 L1988.5 971.4 L1990.0 971.4" fill="none" stroke="#008000" stroke-width="6.5" stroke-linejoin="round" />
</g>
<path d="M222.0 1451.8 L398.5 1451.8 L416.0 757.0 L1281.5 757.0 L1298.6 1451.8 L1988.0 1451.8" fill="none" stroke="#000" stroke-width="6.6" stroke-linejoin="round" stroke-dasharray="25.6 25.2" stroke-linejoin="miter"/>
<path d="M221.5 61.0V1452.8" stroke="#a6a6a6" stroke-width="2.7" fill="none"/>
<path d="M1989.1 61.0V1452.8" stroke="#929292" stroke-width="2.5" fill="none"/>
<path d="M222.8 62.0H1989.8M222.8 1451.8H1989.8" stroke="#000" stroke-width="2.7" fill="none"/>
<g font-size="52"><text transform="translate(203.6 1472.8) scale(.985 1.03)" text-anchor="end">0.3</text><text transform="translate(203.6 1365.9) scale(.985 1.03)" text-anchor="end">0.5</text><text transform="translate(203.6 1259.0) scale(.985 1.03)" text-anchor="end">0.7</text><text transform="translate(203.6 1152.1) scale(.985 1.03)" text-anchor="end">0.9</text><text transform="translate(203.6 1045.2) scale(.985 1.03)" text-anchor="end">1.1</text><text transform="translate(203.6 938.3) scale(.985 1.03)" text-anchor="end">1.3</text><text transform="translate(203.6 831.4) scale(.985 1.03)" text-anchor="end">1.5</text><text transform="translate(203.6 724.4) scale(.985 1.03)" text-anchor="end">1.7</text><text transform="translate(203.6 617.5) scale(.985 1.03)" text-anchor="end">1.9</text><text transform="translate(203.6 510.6) scale(.985 1.03)" text-anchor="end">2.1</text><text transform="translate(203.6 403.7) scale(.985 1.03)" text-anchor="end">2.3</text><text transform="translate(203.6 296.8) scale(.985 1.03)" text-anchor="end">2.5</text><text transform="translate(203.6 189.9) scale(.985 1.03)" text-anchor="end">2.7</text><text transform="translate(203.6 83.0) scale(.985 1.03)" text-anchor="end">2.9</text><text transform="translate(2005.5 1472.8) scale(.985 1.03)">0</text><text transform="translate(2005.5 1333.8) scale(.985 1.03)">10</text><text transform="translate(2005.5 1194.8) scale(.985 1.03)">20</text><text transform="translate(2005.5 1055.9) scale(.985 1.03)">30</text><text transform="translate(2005.5 916.9) scale(.985 1.03)">40</text><text transform="translate(2005.5 777.9) scale(.985 1.03)">50</text><text transform="translate(2005.5 638.9) scale(.985 1.03)">60</text><text transform="translate(2005.5 499.9) scale(.985 1.03)">70</text><text transform="translate(2005.5 361.0) scale(.985 1.03)">80</text><text transform="translate(2005.5 222.0) scale(.985 1.03)">90</text><text transform="translate(2005.5 83.0) scale(.985 1.03)">100</text><text transform="translate(221.5 1523.3) scale(.985 1.03)" text-anchor="middle">0</text><text transform="translate(398.2 1523.3) scale(.985 1.03)" text-anchor="middle">10</text><text transform="translate(574.9 1523.3) scale(.985 1.03)" text-anchor="middle">20</text><text transform="translate(751.6 1523.3) scale(.985 1.03)" text-anchor="middle">30</text><text transform="translate(928.3 1523.3) scale(.985 1.03)" text-anchor="middle">40</text><text transform="translate(1105.0 1523.3) scale(.985 1.03)" text-anchor="middle">50</text><text transform="translate(1281.7 1523.3) scale(.985 1.03)" text-anchor="middle">60</text><text transform="translate(1458.4 1523.3) scale(.985 1.03)" text-anchor="middle">70</text><text transform="translate(1635.1 1523.3) scale(.985 1.03)" text-anchor="middle">80</text><text transform="translate(1811.8 1523.3) scale(.985 1.03)" text-anchor="middle">90</text><text transform="translate(1988.5 1523.3) scale(.985 1.03)" text-anchor="middle">100</text></g>
<rect x="253.65" y="96.4" width="235.6" height="347" fill="#fff" stroke="#8c8c8c" stroke-width="2.5"/>
<path d="M265.1 139.6H339.3" stroke="#ff0000" stroke-width="6.6"/>
<path d="M265.1 217.2H339.3" stroke="#0000ff" stroke-width="6.6"/>
<path d="M265.1 295H339.3" stroke="#008000" stroke-width="8"/>
<path d="M265.1 387.6H291.5M315.7 387.6H339.3" stroke="#000" stroke-width="7.4"/>
<g><text transform="translate(346.41 162.77) scale(0.9915 1.0302)" font-size="60">TEC</text></g>
<g><text transform="translate(346.41 239.72) scale(0.9909 0.9814)" font-size="60">TC</text></g>
<g><text transform="translate(347.40 317.51) scale(0.9745 0.9933)" font-size="60">w/o</text></g>
<g><text transform="translate(345.67 396.80) scale(1.1333 1.0220)" font-size="60">I</text><text transform="translate(362.98 425.90) scale(1.0074 0.9771)" font-size="48">Load</text></g>
<g><text transform="translate(974.39 1602.00) scale(1.0137 1.0023)" font-size="58">Time </text><text transform="translate(1128.05 1601.59) scale(0.6737 0.9857)" font-size="58" font-weight="normal" stroke="#000" stroke-width="2.4">(</text><text transform="translate(1148.00 1602.12) scale(1.1429 0.9450)" font-size="60" font-weight="normal" font-style="italic" font-family="'Liberation Serif',serif">μ</text><text transform="translate(1183.27 1602.52) scale(0.9643 0.9813)" font-size="58">s</text><text transform="translate(1218.85 1601.59) scale(0.7737 0.9857)" font-size="58" font-weight="normal" stroke="#000" stroke-width="2.4">)</text></g>
<g><text transform="translate(82.50 861.10) rotate(-90) scale(1.0000 1.0600)" font-size="58">V</text><text transform="translate(111.50 821.41) rotate(-90) scale(0.9568 1.1000)" font-size="46" letter-spacing="2.5">out </text><text transform="translate(80.49 729.28) rotate(-90) scale(0.6895 0.9393)" font-size="58" font-weight="normal" stroke="#000" stroke-width="2.4">(</text><text transform="translate(82.50 712.97) rotate(-90) scale(1.0703 1.0600)" font-size="58">V</text><text transform="translate(80.49 667.79) rotate(-90) scale(0.6526 0.9393)" font-size="58" font-weight="normal" stroke="#000" stroke-width="2.4">)</text></g>
<g><text transform="translate(2162.60 895.80) rotate(-90) scale(1.0000 1.0650)" font-size="58">I</text><text transform="translate(2191.70 879.09) rotate(-90) scale(1.0308 1.0147)" font-size="46">Load </text><text transform="translate(2161.77 747.64) rotate(-90) scale(0.7211 0.9714)" font-size="58" font-weight="normal" stroke="#000" stroke-width="2.4">(</text><text transform="translate(2162.60 729.51) rotate(-90) scale(0.9773 1.0267)" font-size="58">m</text><text transform="translate(2162.60 679.26) rotate(-90) scale(1.0289 1.0650)" font-size="58">A</text><text transform="translate(2161.77 632.88) rotate(-90) scale(0.8105 0.9714)" font-size="58" font-weight="normal" stroke="#000" stroke-width="2.4">)</text></g>
</g>
</svg></body></html>
